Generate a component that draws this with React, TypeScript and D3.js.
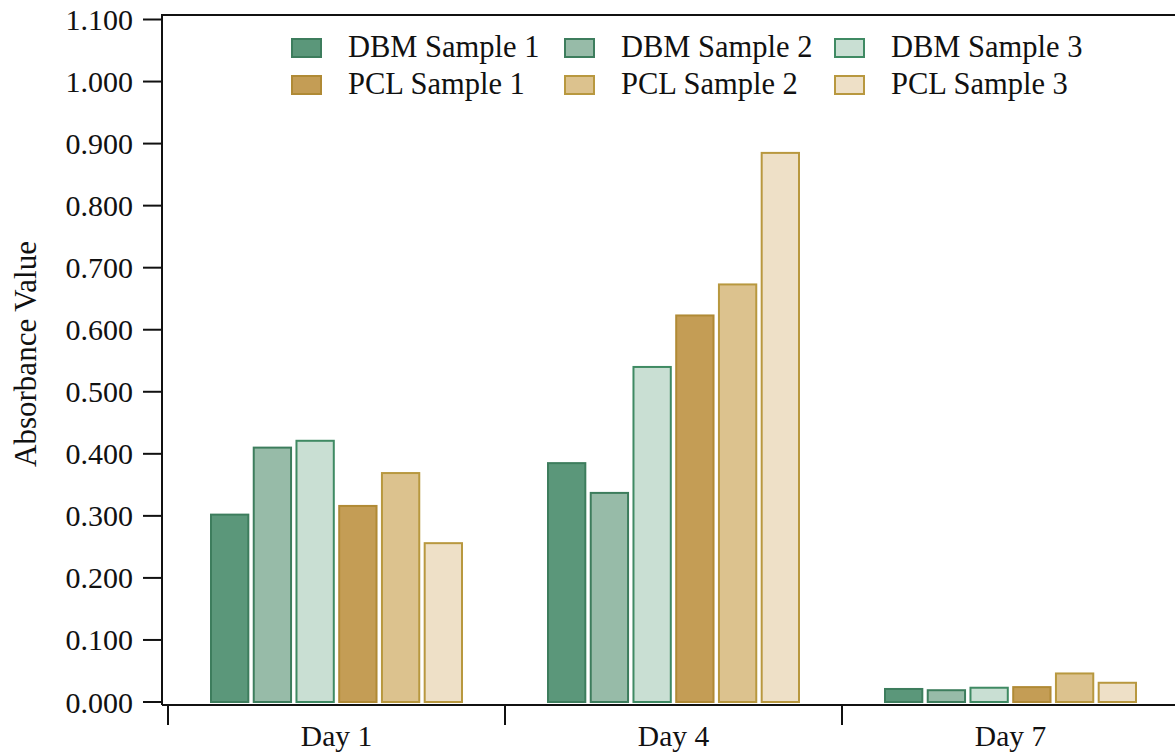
import React from "react";
import * as d3 from "d3";

const days = ["Day 1", "Day 4", "Day 7"];
const seriesNames = ["DBM Sample 1", "DBM Sample 2", "DBM Sample 3", "PCL Sample 1", "PCL Sample 2", "PCL Sample 3"];
const dbm1 = [0.302, 0.385, 0.021];
const dbm2 = [0.410, 0.337, 0.019];
const dbm3 = [0.421, 0.540, 0.023];
const pcl1 = [0.316, 0.623, 0.024];
const pcl2 = [0.369, 0.673, 0.046];
const pcl3 = [0.256, 0.885, 0.031];
const seriesValues = [dbm1, dbm2, dbm3, pcl1, pcl2, pcl3];
const fills = ["#5b977a", "#97bba8", "#c9dfd3", "#c49d55", "#dcc28e", "#eee0c7"];
const strokes = ["#3d7d5d", "#3d7d5d", "#3f8a63", "#b08a35", "#b8983f", "#b8983f"];
const yTicks = [0, 0.1, 0.2, 0.3, 0.4, 0.5, 0.6, 0.7, 0.8, 0.9, 1.0, 1.1];

export default function App() {
  const W = 1175, H = 752;
  const font = "'Liberation Serif', 'Times New Roman', serif";
  const y = d3.scaleLinear().domain([0, 1.1]).range([702, 19.5]);
  const x0 = d3.scaleBand<string>().domain(days).range([168, 1179]).paddingInner(0).paddingOuter(0);
  const x1 = d3.scaleBand<string>().domain(seriesNames).range([42, 295]).paddingInner(0.08).paddingOuter(0);
  const axisLeft = 162, axisTop = 15, axisBottom = 705;
  const legendCols = [292, 565, 835];
  const legendRows = [39, 76];
  return (
    <svg width={W} height={H} style={{ position: "absolute", left: 0, top: 0, background: "#fff" }} fontFamily={font}>
      {/* bars */}
      {days.map((d, di) => (
        <g key={d} transform={`translate(${x0(d)},0)`}>
          {seriesNames.map((s, si) => {
            const v = seriesValues[si][di];
            return (
              <rect key={s} x={(x1(s) as number) + 1} y={y(v)} width={x1.bandwidth() - 2} height={y(0) - y(v)}
                fill={fills[si]} stroke={strokes[si]} strokeWidth={2} />
            );
          })}
        </g>
      ))}
      {/* frame */}
      <line x1={axisLeft} x2={W} y1={axisTop} y2={axisTop} stroke="#111" strokeWidth={2} />
      <line x1={axisLeft} x2={axisLeft} y1={axisTop - 1} y2={axisBottom} stroke="#111" strokeWidth={2} />
      <line x1={axisLeft} x2={W} y1={axisBottom} y2={axisBottom} stroke="#111" strokeWidth={2} />
      {/* y ticks */}
      {yTicks.map((t) => (
        <g key={t}>
          <line x1={143} x2={axisLeft} y1={y(t)} y2={y(t)} stroke="#111" strokeWidth={2} />
          <text x={133} y={y(t)} dy="0.35em" textAnchor="end" fontSize={30} fill="#111">{t.toFixed(3)}</text>
        </g>
      ))}
      {/* x ticks */}
      {[...days.map((d) => x0(d) as number), 1179].map((px, i) => (
        <line key={i} x1={px} x2={px} y1={axisBottom} y2={725} stroke="#111" strokeWidth={2} />
      ))}
      {days.map((d) => (
        <text key={d} x={(x0(d) as number) + x0.bandwidth() / 2} y={746} textAnchor="middle" fontSize={29.5} fill="#111">{d}</text>
      ))}
      {/* y title */}
      <text transform={`translate(36,354) rotate(-90)`} textAnchor="middle" fontSize={31} fill="#111">Absorbance Value</text>
      {/* legend */}
      {seriesNames.map((s, si) => {
        const col = si % 3, row = Math.floor(si / 3);
        const lx = legendCols[col], ly = legendRows[row];
        return (
          <g key={s}>
            <rect x={lx} y={ly} width={29} height={18} fill={fills[si]} stroke={strokes[si]} strokeWidth={2} />
            <text x={lx + 56} y={ly + 18} fontSize={30.5} fill="#111">{s}</text>
          </g>
        );
      })}
    </svg>
  );
}
